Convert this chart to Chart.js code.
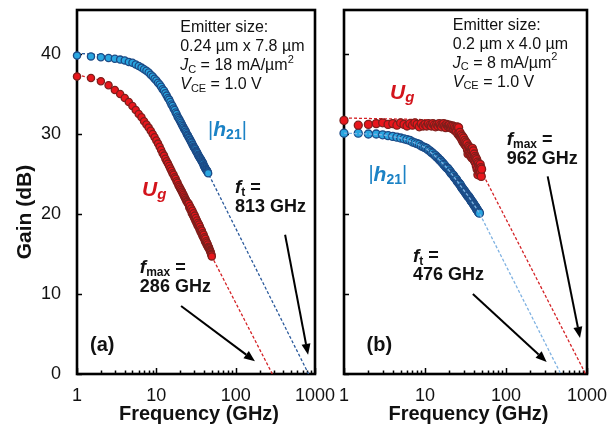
<!DOCTYPE html>
<html>
<head>
<meta charset="utf-8">
<script src="https://cdn.jsdelivr.net/npm/chart.js@4.4.1/dist/chart.umd.min.js"></script>
<style>
  html, body { margin: 0; padding: 0; background: #fff; }
  #wrap { position: relative; width: 616px; height: 427px; overflow: hidden; background: #fff; }
  canvas { position: absolute; top: 0; }
  #chartA { left: 0; }
  #chartB { left: 330px; }
</style>
</head>
<body>
<div id="wrap">
  <canvas id="chartA" width="345" height="427"></canvas>
  <canvas id="chartB" width="286" height="427"></canvas>
</div>
<script>
// measured frequency points (GHz), 0.5 GHz step
const freqGHz = [1, 1.5, 2, 2.5, 3, 3.5, 4, 4.5, 5, 5.5, 6, 6.5, 7, 7.5, 8, 8.5, 9, 9.5, 10,
  10.5, 11, 11.5, 12, 12.5, 13, 13.5, 14, 14.5, 15, 15.5, 16, 16.5, 17, 17.5, 18, 18.5, 19, 19.5, 20,
  20.5, 21, 21.5, 22, 22.5, 23, 23.5, 24, 24.5, 25, 25.5, 26, 26.5, 27, 27.5, 28, 28.5, 29, 29.5, 30,
  30.5, 31, 31.5, 32, 32.5, 33, 33.5, 34, 34.5, 35, 35.5, 36, 36.5, 37, 37.5, 38, 38.5, 39, 39.5, 40,
  40.5, 41, 41.5, 42, 42.5, 43, 43.5, 44, 44.5, 45, 45.5, 46, 46.5, 47, 47.5, 48, 48.5, 49, 49.5, 50];

// (a) 0.24 x 7.8 um, Jc = 18 mA/um2
const h21A = [39.8, 39.7, 39.6, 39.5, 39.4, 39.3, 39.2, 39.0, 38.9, 38.7, 38.5, 38.3, 38.1, 37.9, 37.7, 37.4, 37.2, 36.9, 36.7,
  36.4, 36.2, 35.9, 35.6, 35.4, 35.1, 34.8, 34.5, 34.3, 34.0, 33.7, 33.5, 33.2, 33.0, 32.7, 32.5, 32.2, 32.0, 31.8, 31.6,
  31.4, 31.2, 31.0, 30.8, 30.6, 30.5, 30.3, 30.1, 29.9, 29.8, 29.6, 29.5, 29.3, 29.2, 29.0, 28.9, 28.7, 28.6, 28.4, 28.3,
  28.2, 28.1, 27.9, 27.8, 27.7, 27.6, 27.4, 27.3, 27.2, 27.1, 27.0, 26.9, 26.8, 26.7, 26.6, 26.5, 26.4, 26.3, 26.1, 26.0,
  25.9, 25.8, 25.7, 25.6, 25.5, 25.5, 25.4, 25.3, 25.2, 25.1];
const ugA = [37.2, 37.0, 36.6, 36.1, 35.5, 35.0, 34.5, 34.0, 33.5, 33.0, 32.5, 32.1, 31.6, 31.2, 30.8, 30.4, 30.0, 29.6, 29.2,
  28.8, 28.4, 28.0, 27.6, 27.3, 26.9, 26.6, 26.3, 26.0, 25.7, 25.4, 25.1, 24.9, 24.6, 24.4, 24.1, 23.9, 23.6, 23.4, 23.2,
  23.0, 22.8, 22.6, 22.4, 22.2, 22.0, 21.8, 21.6, 21.5, 21.3, 21.3, 20.8, 21.0, 20.5, 20.7, 20.1, 20.4, 19.8, 20.1, 19.5,
  19.8, 19.2, 19.5, 18.9, 19.2, 18.6, 18.9, 18.4, 18.7, 18.1, 18.4, 17.8, 18.1, 17.6, 17.9, 17.3, 17.6, 17.1, 17.4, 16.9,
  17.1, 16.6, 16.9, 16.4, 16.6, 16.2, 16.4, 16.0, 16.2, 15.8, 15.9, 15.8, 15.7, 15.5, 15.4, 15.3, 15.2, 15.0, 14.9, 14.7];

// (b) 0.2 x 4.0 um, Jc = 8 mA/um2
const h21B = [30.1, 30.1, 30.0, 30.0, 29.9, 29.8, 29.7, 29.6, 29.5, 29.4, 29.3, 29.2, 29.0, 28.9, 28.8, 28.7, 28.5, 28.4, 28.3,
  28.2, 28.0, 27.9, 27.7, 27.6, 27.4, 27.3, 27.1, 27.0, 26.8, 26.7, 26.5, 26.4, 26.2, 26.1, 25.9, 25.8, 25.7, 25.6, 25.4,
  25.3, 25.1, 25.0, 24.9, 24.8, 24.6, 24.5, 24.4, 24.3, 24.1, 24.0, 23.9, 23.8, 23.7, 23.6, 23.4, 23.3, 23.2, 23.1, 23.0,
  22.9, 22.8, 22.7, 22.6, 22.5, 22.4, 22.3, 22.2, 22.2, 22.1, 22.0, 21.9, 21.8, 21.7, 21.6, 21.5, 21.5, 21.4, 21.3, 21.2,
  21.1, 21.0, 21.0, 20.9, 20.8, 20.7, 20.6, 20.5, 20.5, 20.4, 20.3, 20.2, 20.2, 20.1];
const ugB = [31.7, 31.1, 31.2, 31.3, 31.4, 31.2, 31.3, 31.1, 31.4, 31.2, 31.0, 31.3, 31.1, 31.4, 31.2, 30.9, 31.3, 31.0, 31.2,
  31.0, 31.3, 31.1, 31.0, 31.3, 31.1, 30.9, 31.2, 31.0, 31.3, 31.1, 30.9, 31.2, 31.3, 31.0, 30.8, 31.2, 31.0, 30.9, 31.1,
  30.8, 31.0, 30.7, 31.0, 30.6, 30.9, 30.4, 30.8, 30.3, 30.9, 30.0, 30.8, 29.8, 30.2, 29.6, 29.9, 29.3, 29.7, 29.0, 29.5,
  28.8, 29.2, 28.6, 29.0, 28.4, 28.8, 28.0, 27.5, 28.5, 27.8, 28.3, 27.4, 28.1, 27.2, 28.0, 27.0, 28.2, 27.3, 27.9, 26.8,
  27.5, 26.6, 27.2, 26.4, 27.0, 26.0, 26.8, 25.6, 26.5, 24.9, 26.3, 25.4, 26.0, 25.6, 25.1, 26.2, 25.3, 25.8, 24.7, 25.6];

// -20 dB/dec fits and extrapolations
const fitFreqA_h21 = [1, 2, 5, 10, 20, 45, 830];
const fitA_h21 = [40.1, 39.9, 39.0, 36.8, 31.7, 25.1, 0];
const fitFreqA_ug = [1, 2, 5, 10, 20, 50, 290];
const fitA_ug = [37.4, 36.7, 33.5, 29.2, 23.2, 14.7, 0];
const fitFreqB_h21 = [1, 2, 3, 5, 7, 10, 15, 20, 25, 30, 35, 40, 47, 475];
const fitB_h21 = [30.1, 30.0, 29.9, 29.5, 29.0, 28.3, 26.8, 25.4, 24.1, 23.0, 22.1, 21.2, 20.1, 0];
const fitFreqB_ug = [1, 10, 15, 20, 30, 50, 962];
const fitB_ug = [32.0, 31.8, 31.3, 30.6, 29.0, 25.3, 0];

const xTickLabels = [1, 10, 100, 1000];
const xMinorTicks = [2, 3, 4, 5, 6, 7, 8, 9, 20, 30, 40, 50, 60, 70, 80, 90, 200, 300, 400, 500, 600, 700, 800, 900];
const yTickLabels = [0, 10, 20, 30, 40];

const FF = '"Liberation Sans", Arial, Helvetica, sans-serif';
const BLUE_TXT = "#1b82c5";
const RED_TXT = "#d3141c";

function pts(xs, ys) {
    return ys.map((y, i) => ({ x: xs[i], y: y }));
}

function markers(ys, fill, edge, r) {
    return {
        data: pts(freqGHz, ys),
        showLine: false,
        pointRadius: r,
        pointBackgroundColor: fill,
        pointBorderColor: edge,
        pointBorderWidth: 1.3,
        clip: false,
        order: 1
    };
}

function fitLine(xs, ys, color, order) {
    return {
        data: pts(xs, ys),
        showLine: true,
        pointRadius: 0,
        borderColor: color,
        borderWidth: 1.3,
        borderDash: [3, 2],
        fill: false,
        order: order
    };
}

// draw text made of runs (for sub/superscripts)
function runs(ctx, x, y, parts, color) {
    let cx = x;
    ctx.fillStyle = color || "#111";
    ctx.textBaseline = "middle";
    ctx.textAlign = "left";
    parts.forEach(p => {
        ctx.font = p[1] + " " + FF;
        ctx.fillText(p[0], cx, y + (p[2] || 0));
        cx += ctx.measureText(p[0]).width;
    });
}

function arrow(ctx, x1, y1, x2, y2) {
    const a = Math.atan2(y2 - y1, x2 - x1);
    const len = 11, w = 4.5;
    ctx.strokeStyle = "#000";
    ctx.fillStyle = "#000";
    ctx.lineWidth = 2;
    ctx.beginPath();
    ctx.moveTo(x1, y1);
    ctx.lineTo(x2 - Math.cos(a) * len, y2 - Math.sin(a) * len);
    ctx.stroke();
    ctx.beginPath();
    ctx.moveTo(x2, y2);
    ctx.lineTo(x2 - Math.cos(a) * len - Math.sin(a) * w, y2 - Math.sin(a) * len + Math.cos(a) * w);
    ctx.lineTo(x2 - Math.cos(a) * len + Math.sin(a) * w, y2 - Math.sin(a) * len - Math.cos(a) * w);
    ctx.closePath();
    ctx.fill();
}

// frame + inward tick marks
const framePlugin = {
    id: "frame",
    beforeDatasetsDraw(chart) {
        const ctx = chart.ctx, a = chart.chartArea;
        const xs = chart.scales.x, ys = chart.scales.y;
        ctx.save();
        ctx.strokeStyle = "#000";
        ctx.lineWidth = 1.5;
        ctx.beginPath();
        xTickLabels.forEach(v => {
            const px = Math.round(xs.getPixelForValue(v)) + 0.5;
            ctx.moveTo(px, a.bottom); ctx.lineTo(px, a.bottom - 6);
        });
        xMinorTicks.forEach(v => {
            const px = Math.round(xs.getPixelForValue(v)) + 0.5;
            ctx.moveTo(px, a.bottom); ctx.lineTo(px, a.bottom - 3.5);
        });
        yTickLabels.forEach(v => {
            const py = Math.round(ys.getPixelForValue(v)) + 0.5;
            ctx.moveTo(a.left, py); ctx.lineTo(a.left + 5, py);
        });
        ctx.stroke();
        ctx.lineWidth = 2.6;
        ctx.strokeRect(a.left, a.top, a.right - a.left, a.bottom - a.top);
        ctx.restore();
    }
};

// annotations and axis titles
function notesPlugin(draw) {
    return {
        id: "notes",
        afterDraw(chart) {
            const ctx = chart.ctx;
            const P = (f, g) => [chart.scales.x.getPixelForValue(f), chart.scales.y.getPixelForValue(g)];
            ctx.save();
            draw(ctx, P, chart.chartArea);
            ctx.restore();
        }
    };
}

const reg16 = "16px", it16 = "italic 16px", sub11 = "11px";

function emitterBlock(ctx, x, y, size, jc) {
    runs(ctx, x, y, [["Emitter size:", reg16]]);
    runs(ctx, x, y + 19, [[size, reg16]]);
    runs(ctx, x, y + 38, [["J", it16], ["C", sub11, 4], [" = " + jc + " mA/µm", reg16], ["2", sub11, -6]]);
    runs(ctx, x, y + 57, [["V", it16], ["CE", sub11, 4], [" = 1.0 V", reg16]]);
}

function h21Label(ctx, x, y) {
    runs(ctx, x, y, [["|", "20px"], ["h", "italic bold 21px"], ["21", "bold 14px", 5], ["|", "20px"]], BLUE_TXT);
}

function ugLabel(ctx, x, y) {
    runs(ctx, x, y, [["U", "italic bold 21px"], ["g", "italic bold 15px", 5]], RED_TXT);
}

function freqLabel(ctx, p, sub, value) {
    runs(ctx, p[0], p[1], [["f", "italic bold 19px"], [sub, "bold 12px", 5], [" =", "bold 18px"]]);
    runs(ctx, p[0], p[1] + 19, [[value, "bold 18px"]]);
}

function xTitle(ctx, a) {
    ctx.fillStyle = "#111";
    ctx.font = "bold 20px " + FF;
    ctx.textAlign = "center";
    ctx.textBaseline = "middle";
    ctx.fillText("Frequency (GHz)", (a.left + a.right) / 2 + 3, 414);
}

const drawA = (ctx, P, a) => {
    const e = P(20, 43.25);
    emitterBlock(ctx, e[0], e[1], "0.24 µm x 7.8 µm", "18");
    const h = P(44.9, 30.5); h21Label(ctx, h[0], h[1]);
    const u = P(6.6, 23); ugLabel(ctx, u[0], u[1]);
    freqLabel(ctx, P(98, 23.3), "t", "813 GHz");
    freqLabel(ctx, P(6.2, 13.3), "max", "286 GHz");
    const t = P(1.46, 3.6);
    runs(ctx, t[0], t[1], [["(a)", "bold 20px"]]);
    let p1 = P(420, 17.4), p2 = P(818, 2.4);
    arrow(ctx, p1[0], p1[1], p2[0], p2[1]);
    p1 = P(20.5, 8.5); p2 = P(175, 1.6);
    arrow(ctx, p1[0], p1[1], p2[0], p2[1]);
    xTitle(ctx, a);
    ctx.save();
    ctx.translate(25, 212);
    ctx.rotate(-Math.PI / 2);
    ctx.font = "bold 21px " + FF;
    ctx.textAlign = "center";
    ctx.textBaseline = "middle";
    ctx.fillStyle = "#111";
    ctx.fillText("Gain (dB)", 0, 0);
    ctx.restore();
};

const drawB = (ctx, P, a) => {
    const e = P(22, 43.6);
    emitterBlock(ctx, e[0], e[1], "0.2 µm x 4.0 µm", "8");
    const u = P(3.7, 35.1); ugLabel(ctx, u[0], u[1]);
    const h = P(2.0, 24.9); h21Label(ctx, h[0], h[1]);
    freqLabel(ctx, P(102, 29.25), "max", "962 GHz");
    freqLabel(ctx, P(7.1, 14.7), "t", "476 GHz");
    const t = P(1.9, 3.6);
    runs(ctx, t[0], t[1], [["(b)", "bold 20px"]]);
    let p1 = P(327, 24.7), p2 = P(820, 4.5);
    arrow(ctx, p1[0], p1[1], p2[0], p2[1]);
    p1 = P(39, 10); p2 = P(318, 1.5);
    arrow(ctx, p1[0], p1[1], p2[0], p2[1]);
    xTitle(ctx, a);
};

function noPad(s) {
    s.paddingTop = 0; s.paddingBottom = 0;
    s.paddingLeft = 0; s.paddingRight = 0;
}

function options(rightPad, yWidth, showY) {
    return {
        responsive: false,
        animation: false,
        devicePixelRatio: 1,
        layout: { padding: { top: 10, right: rightPad, left: 0, bottom: 0 } },
        plugins: { legend: { display: false }, tooltip: { enabled: false } },
        scales: {
            x: {
                type: "logarithmic", min: 1, max: 1000,
                grid: { display: false, drawTicks: false },
                border: { display: false },
                afterBuildTicks: s => { s.ticks = xTickLabels.map(v => ({ value: v })); },
                afterFit: s => { s.height = 53; noPad(s); },
                ticks: {
                    autoSkip: false, maxRotation: 0, padding: 13, color: "#111",
                    font: { family: FF, size: 18, lineHeight: 1 },
                    callback: v => String(v)
                }
            },
            y: {
                min: 0, max: 45.5,
                grid: { display: false, drawTicks: false },
                border: { display: false },
                afterBuildTicks: s => { s.ticks = yTickLabels.map(v => ({ value: v })); },
                afterFit: s => { s.width = yWidth; noPad(s); },
                ticks: {
                    display: showY, padding: 16, color: "#111",
                    font: { family: FF, size: 18, lineHeight: 1 },
                    callback: v => String(v)
                }
            }
        }
    };
}

new Chart(document.getElementById("chartA"), {
    type: "scatter",
    data: {
        datasets: [
            fitLine(fitFreqA_h21, fitA_h21, "#2b5a9c", 2),
            fitLine(fitFreqA_ug, fitA_ug, "#d42226", 2),
            markers(ugA, "#e8161c", "#7e1f1c", 3.6),
            markers(h21A, "#2aa6e0", "#1c4a86", 3.6)
        ]
    },
    options: options(30, 77, true),
    plugins: [framePlugin, notesPlugin(drawA)]
});

new Chart(document.getElementById("chartB"), {
    type: "scatter",
    data: {
        datasets: [
            fitLine(fitFreqB_ug, fitB_ug, "#d42226", 2),
            markers(ugB, "#e8161c", "#7e1f1c", 4),
            markers(h21B, "#2aa6e0", "#1c4a86", 4),
            fitLine(fitFreqB_h21, fitB_h21, "#7fb2e2", 0)
        ]
    },
    options: options(29, 14, false),
    plugins: [framePlugin, notesPlugin(drawB)]
});
</script>
</body>
</html>
